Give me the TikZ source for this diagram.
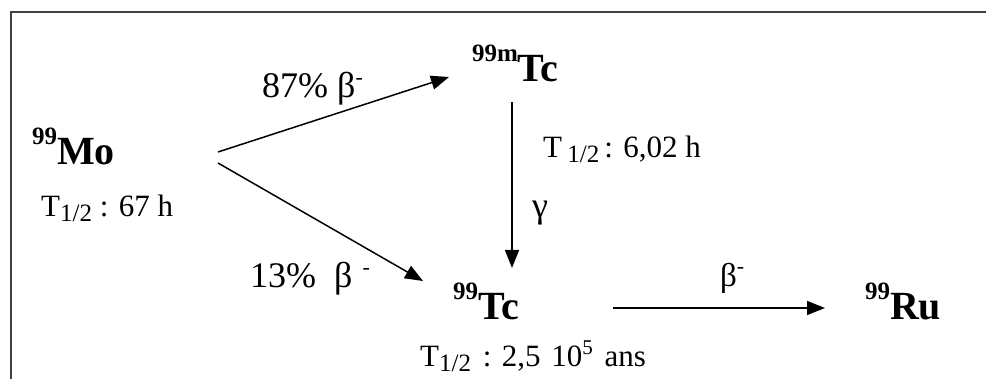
\documentclass[tikz,border=0pt]{standalone}
\usepackage{fontspec}
\setmainfont{Liberation Serif}
\usetikzlibrary{arrows.meta}
\newcommand{\isotope}[2]{{\fontsize{40}{40}\selectfont\bfseries\raisebox{20pt}{\fontsize{25}{25}\selectfont #1}#2}}
\newcommand{\halfsub}{\raisebox{-5pt}{\fontsize{25}{25}\selectfont 1/2}}
\newcommand{\bminus}{\raisebox{13pt}{\fontsize{22}{22}\selectfont -}}
\begin{document}
\begin{tikzpicture}[x=1pt,y=-1pt,
  nuc/.style={anchor=base west,inner sep=0pt,outer sep=0pt},
  lbl/.style={anchor=base west,inner sep=0pt,font=\fontsize{31}{31}\selectfont},
  biglbl/.style={anchor=base west,inner sep=0pt,font=\fontsize{36}{36}\selectfont},
  decay/.style={line width=1.5pt,-{Triangle[length=18pt,width=14pt]}}]
\useasboundingbox (0,0) rectangle (986,379);
\draw[line width=1.3pt,black!75] (11,379) -- (11,12) -- (986,12);

\node[nuc] (mo) at (32,165) {\isotope{99}{Mo}};
\node[nuc] (tcm) at (472,82) {\isotope{99m}{Tc}};
\node[nuc] (tc) at (453,320) {\isotope{99}{Tc}};
\node[nuc] (ru) at (865,320) {\isotope{99}{Ru}};

\node[lbl] (tmo) at (41,217) {T\halfsub\ : 67 h};
\node[lbl] (ttcm) at (543,158) {T\,\halfsub\,: 6,02 h};
\node[lbl] (ttc) at (420,367) {T\halfsub\hspace{4pt} : 2,5\hspace{3pt} 10\raisebox{12pt}{\fontsize{21}{21}\selectfont 5}\hspace{4pt} ans};
\node[lbl,font=\fontsize{36}{36}\selectfont] (gam) at (532,218) {γ};
\node[biglbl] (l87) at (262,98) {87\% β\bminus};
\node[biglbl] (l13) at (250,288) {13\%\hspace{18pt}β\hspace{10pt}\bminus};
\node[lbl,font=\fontsize{33}{33}\selectfont] (lb) at (720,287) {β\bminus};

\coordinate (s1) at (218,152);
\coordinate (e1) at (449,77);
\coordinate (s2) at (218,163);
\coordinate (e2) at (423,281);
\coordinate (s3) at (512,102);
\coordinate (e3) at (512,268);
\coordinate (s4) at (613,308);
\coordinate (e4) at (825,308);
\draw[decay] (s1) -- (e1);
\draw[decay] (s2) -- (e2);
\draw[decay] (s3) -- (e3);
\draw[decay] (s4) -- (e4);
\end{tikzpicture}
\end{document}
